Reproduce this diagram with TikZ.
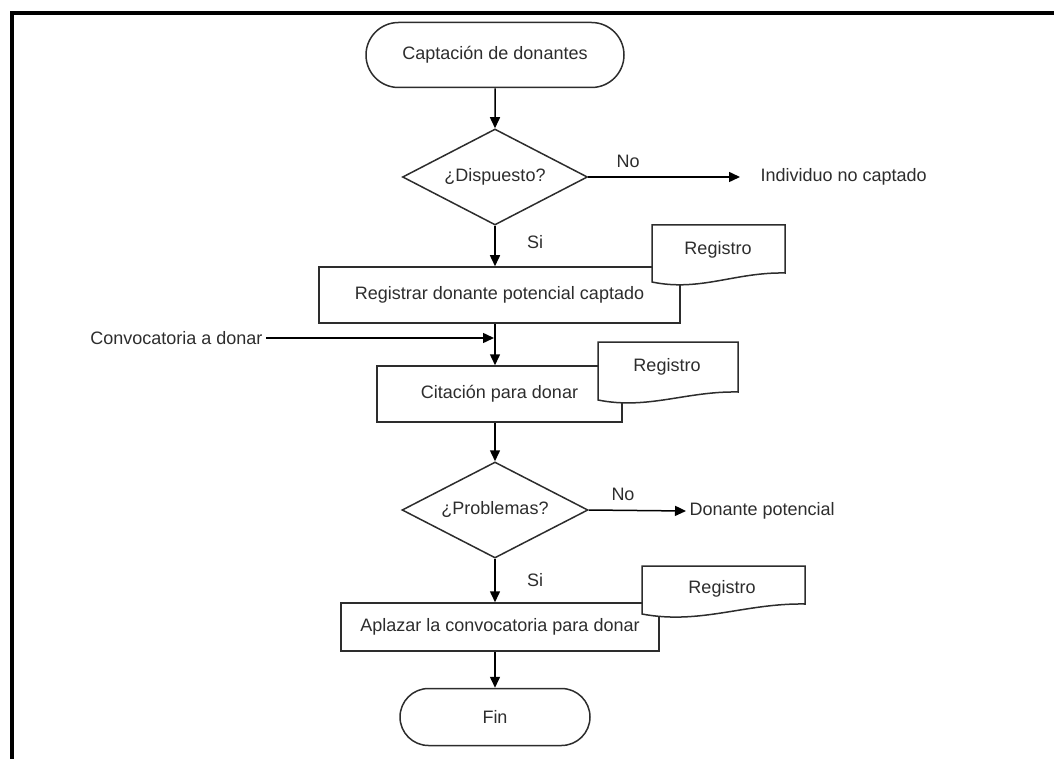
\documentclass[tikz,border=0pt]{standalone}
\usepackage{fontspec}
\setmainfont{Liberation Sans}
\usepackage{xcolor}
\usetikzlibrary{arrows.meta, shapes.geometric, shapes.misc}
\definecolor{inkgray}{RGB}{45,45,45}

\begin{document}
\begin{tikzpicture}[x=1pt, y=-1pt,
    every node/.style={font=\fontsize{18}{21}\selectfont, text=inkgray},
    flowbox/.style={draw=inkgray, line width=1.5pt, fill=white, inner sep=0pt},
    termbox/.style={flowbox, rounded rectangle},
    decbox/.style={flowbox, diamond, aspect=1.9},
    docline/.style={draw=inkgray, line width=1.5pt, fill=white},
    arr/.style={draw=black, line width=1.5pt, -{Triangle[length=11pt, width=10pt]}}]
        \useasboundingbox (0,0) rectangle (1054,759);
        % outer frame
        \draw[line width=4.5pt] (12,759) -- (12,13) -- (1054,13);
        % Start and first decision
        \node[termbox, minimum width=258pt, minimum height=65pt] (start) at (495,55) {Captación de donantes};
        \node[decbox, minimum width=185pt, minimum height=96pt] (disp) at (495,177) {¿Dispuesto?};
        \node[anchor=west] (nocap) at (757,177) {Individuo no captado};
        \node (no1) at (628,161) {No};
        \node (si1) at (535,242) {Si};
        % Register
        \node[flowbox, minimum width=361pt, minimum height=56pt] (reg) at (499.5,295) {Registrar donante potencial captado};
        \draw[docline] (652,225) -- (785,225) -- (785,273) .. controls (735,272) and (700,292) .. (652,282) -- cycle;
        \node (doc1) at (718,250) {Registro};
        % Call to donate
        \node[anchor=east] (conv) at (266,338) {Convocatoria a donar};
        \coordinate (join) at (495,338);
        \node[flowbox, minimum width=245pt, minimum height=56pt] (cit) at (499.5,394) {Citación para donar};
        \draw[docline] (598,342) -- (738,342) -- (738,392) .. controls (686,391) and (648,410) .. (598,400) -- cycle;
        \node (doc2) at (667,367) {Registro};
        % Second decision
        \node[decbox, minimum width=186pt, minimum height=96pt] (prob) at (495,510) {¿Problemas?};
        \node[anchor=west] (pot) at (686,511) {Donante potencial};
        \node (no2) at (623,494) {No};
        \node (si2) at (535,580) {Si};
        % Postpone and end
        \node[flowbox, minimum width=318pt, minimum height=48pt] (apl) at (500,627) {Aplazar la convocatoria para donar};
        \draw[docline] (642,566) -- (805,566) -- (805,604) .. controls (745,603) and (700,625) .. (642,614) -- cycle;
        \node (doc3) at (722,589) {Registro};
        \node[termbox, minimum width=190pt, minimum height=57pt] (fin) at (495,717) {Fin};
        % Connectors
        \draw[arr] (start) -- (disp);
        \draw[arr, shorten >=17pt] (disp.east) -- (nocap.west);
        \draw[arr] (disp.south) -- (reg.north -| disp.south);
        \draw[arr] (reg.south -| disp.south) -- (cit.north -| disp.south);
        \draw[arr, shorten >=1pt] (conv.east) -- (join);
        \draw[arr] (cit.south -| prob.north) -- (prob.north);
        \draw[arr] (prob.east) -- (pot.west);
        \draw[arr] (prob.south) -- (apl.north -| prob.south);
        \draw[arr] (apl.south -| fin.north) -- (fin.north);
      \end{tikzpicture}
\end{document}
